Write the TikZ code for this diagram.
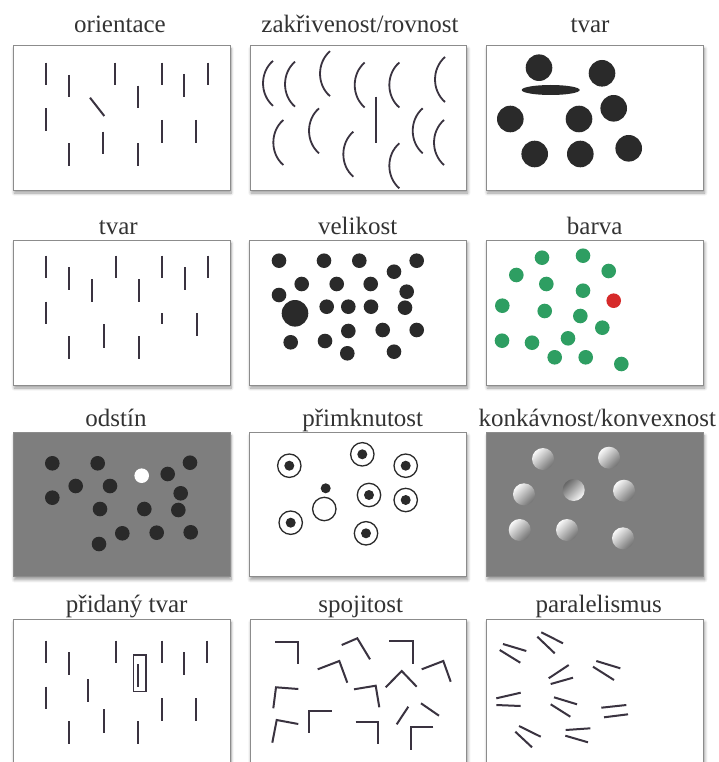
\documentclass[tikz,border=0pt]{standalone}
\usepackage{fontspec}
\setmainfont{Liberation Serif}
\usetikzlibrary{shadows.blur}
\definecolor{ink}{HTML}{3A3340}
\definecolor{dot}{HTML}{2A2A2A}
\definecolor{frame}{HTML}{8C8C8C}
\definecolor{bggray}{HTML}{7E7E7E}
\definecolor{grn}{HTML}{2E9E62}
\definecolor{rd}{HTML}{D62A2A}
\definecolor{ttl}{HTML}{333333}
\tikzset{
 panel/.style={draw=frame, line width=0.8pt, fill=white, blur shadow={shadow xshift=1pt, shadow yshift=-3pt, shadow blur steps=8, shadow blur radius=3pt}},
 graypanel/.style={panel, fill=bggray},
 title/.style={anchor=base, font=\fontsize{25}{28}\selectfont, text=ttl, inner sep=0pt},
 bar/.style={draw=ink, line width=2pt},
 curve/.style={draw=ink, line width=1.8pt},
 blob/.style={fill=dot},
 vex/.style={top color=white!95!gray, bottom color=black!55, shading angle=45},
 cave/.style={top color=black!60, bottom color=white!95!gray, shading angle=45},
}
\begin{document}
\begin{tikzpicture}[x=1pt,y=-1pt]
\useasboundingbox (0,0) rectangle (718,762);
\clip (0,0) rectangle (718,762);

% titles
\node[title] (t1) at (120,32.3) {orientace};
\node[title] (t2) at (360,32.3) {zakřivenost/rovnost};
\node[title] (t3) at (590,32.3) {tvar};
\node[title] (t4) at (118.3,234.3) {tvar};
\node[title] (t5) at (357.7,234.3) {velikost};
\node[title] (t6) at (594.7,234.3) {barva};
\node[title] (t7) at (116,426) {odstín};
\node[title] (t8) at (362.7,426) {přimknutost};
\node[title] (t9) at (597.3,426) {konkávnost/konvexnost};
\node[title] (t10) at (126.7,612.7) {přidaný tvar};
\node[title] (t11) at (360.7,612.7) {spojitost};
\node[title] (t12) at (598.7,612.7) {paralelismus};

% panels
\path[panel] (13.3,45.7) rectangle (230,190);
\path[panel] (250,45.7) rectangle (466.7,190);
\path[panel] (486.3,45.7) rectangle (703.7,190);
\path[panel] (13.3,240) rectangle (230,385);
\path[panel] (249.3,240) rectangle (466.7,385);
\path[panel] (486.3,240) rectangle (703.7,385);
\path[graypanel] (13.3,432.7) rectangle (230,576.7);
\path[panel] (249.3,432.7) rectangle (466.7,576.7);
\path[graypanel] (486.3,432.7) rectangle (703.7,576.7);
\path[panel] (13.3,619.3) rectangle (230,790);
\path[panel] (250,619.3) rectangle (466.7,790);
\path[panel] (486.3,619.3) rectangle (703.7,790);

% 1 orientace
\foreach \x/\a/\b in {45.7/62.7/85, 69/75/96.7, 115/62.7/85, 161.7/62.7/85, 184.3/74/96.7, 207.7/62.7/85, 138.3/85.7/108.3, 45.7/108.3/131, 161.7/120/142.7, 196/120/142.7, 103.3/131.7/154.3, 69/143.3/165.7, 138.3/143.3/165.7}
  \draw[bar] (\x,\a) -- (\x,\b);
\draw[bar] (90,97.7) -- (104.3,116);

% 2 zakrivenost
\foreach \x/\y in {273/83.3, 295/84.2, 330/73.7, 364.7/85, 399.3/85, 445/79.5, 283.3/142.5, 319/130.8, 353.3/154.2, 399.3/165.8, 422.7/130.8, 444/142.5}
  \draw[curve] (\x,{\y-22.5}) .. controls ({\x-13.3},{\y-11}) and ({\x-13.3},{\y+11}) .. (\x,{\y+22.5});
\draw[bar] (376,96.7) -- (376,142.7);

% 3 tvar (kruhy)
\foreach \x/\y in {539/67.7, 602/73.3, 510.3/119, 579/119, 613.7/108.3, 534.7/154, 580.3/154, 628.7/148.3}
  \fill[blob] (\x,\y) circle (13.3);
\fill[blob] (550.7,90) ellipse (29 and 5);

% 4 tvar (cary)
\foreach \x/\a/\b in {45.7/255.7/278.3, 69/267.3/290, 92.3/279/301.7, 115.7/255.7/278.3, 139/279/301.7, 162.3/255.7/278.3, 185/267.3/290, 208/255.7/278.3, 45.7/301.7/324.3, 162.3/313.3/324, 196.7/313.3/335.7, 104.3/324.3/347.7, 69.3/336/359, 139/336/359}
  \draw[bar] (\x,\a) -- (\x,\b);

% 5 velikost
\foreach \x/\y in {279/260.7, 324/260.7, 359.3/260.7, 416.7/260.7, 394/271.7, 301.7/284, 336.7/284, 370.7/284, 406.7/291.7, 279/295, 326.7/306.7, 348.3/306.7, 371/306.7, 405/307.7, 348.3/331, 382.7/330, 416.7/330, 290.7/342.3, 325/341, 347.3/353.3, 394/351.7}
  \fill[blob] (\x,\y) circle (7.3);
\fill[blob] (295,313.3) circle (13.3);

% 6 barva
\foreach \x/\y in {542/257.7, 583/255.7, 516.3/275, 608.7/271, 546.3/284, 583/290.7, 502.3/305.7, 544.7/311, 580.3/316, 602.3/327.7, 502/340.7, 532/342.7, 568/338.3, 554.7/357.3, 585.7/357.3, 621.3/364}
  \fill[grn] (\x,\y) circle (7.3);
\fill[rd] (613.7,300.7) circle (7.3);

% 7 odstin
\foreach \x/\y in {52.3/463.3, 97.7/463.3, 190/462.7, 167.7/474, 75.7/486, 110/486, 52.3/497.7, 180.7/493.3, 100/509, 144.3/509, 178.3/510, 122.3/533.3, 156.7/532.7, 190.7/532.3, 99/544}
  \fill[blob] (\x,\y) circle (7.3);
\fill[white] (141.7,475.7) circle (7.3);

% 8 primknutost
\foreach \x/\y in {289.3/465.7, 362.3/454.3, 405.7/465.7, 369/495, 405.7/500, 290.7/522.7, 366/533.3}
  {\draw[dot, line width=1.3pt] (\x,\y) circle (11.7);
   \fill[blob] (\x,\y) circle (5);}
\fill[blob] (325.7,488.3) circle (5);
\draw[dot, line width=1.3pt] (324.3,509) circle (11.7);

% 9 konkavnost
\foreach \x/\y in {543/459, 609/457.7, 524/494.3, 624/490.7, 519.7/530, 567/530, 623/538.3}
  \shade[vex] (\x,\y) circle (11);
\shade[cave] (573.7,490) circle (11);

% 10 pridany tvar
\foreach \x/\a/\b in {45.7/640.7/663.3, 69/652.3/675, 115.7/640.7/663.3, 161.7/640.7/663.3, 184.3/652.3/675, 207.3/640.7/663.3, 138.3/664/686.7, 88.3/679.3/701.7, 45.7/686.7/709.3, 161.7/698.3/720.7, 196/698.3/720.7, 104/709.3/732.7, 69/721/744, 138.3/721/744}
  \draw[bar] (\x,\a) -- (\x,\b);
\draw[ink, line width=1.3pt] (133.3,655) rectangle (146,691.7);

% 11 spojitost
\draw[bar] (275,641.7) -- (298.3,641.7) -- (298.3,664);
\draw[bar] (341.7,645) -- (357.3,638.3) -- (370,659.3);
\draw[bar] (389.3,641) -- (412.7,641) -- (412.7,664);
\draw[bar] (317.7,669.3) -- (339.3,661) -- (347.3,682.7);
\draw[bar] (421.7,669.3) -- (443.3,661) -- (450.7,681.7);
\draw[bar] (385.7,687.3) -- (401.7,671) -- (416.7,686.7);
\draw[bar] (298.3,689) -- (276,687.3) -- (273.3,708.3);
\draw[bar] (354,689.3) -- (375.7,685.7) -- (379.3,707.3);
\draw[bar] (331.7,710.7) -- (309.3,710.7) -- (309.3,732.7);
\draw[bar] (298.3,724) -- (276.7,720) -- (272.3,742.7);
\draw[bar] (355.7,721.7) -- (377.7,721.7) -- (377.7,744);
\draw[bar] (408.3,706.7) -- (396.7,724.3);
\draw[bar] (421,703.3) -- (439,715.7);
\draw[bar] (433.3,727.3) -- (410.7,727.3) -- (410.7,750);

% 12 paralelismus
\foreach \a/\b/\c/\d in {503/644/526.3/651, 499.7/650/520.3/662.7, 541.3/632.3/563/643.3, 537.3/636.7/554.7/653.3, 596.3/661/620.3/668.3, 593/666.7/614/680, 548.7/678.3/568.7/665, 550.7/684/573/677.7, 496.3/698.3/520.7/692.7, 496.3/705/520.7/706, 554/697.3/577/704.3, 550.7/704.3/570.3/716.7, 601.3/707.7/626.3/705, 604/717.3/628/714.3, 519/726/540.7/736.7, 515.3/731.7/532/747.3, 565.7/730/590.3/728.3, 565.3/735.7/588/742.3}
  \draw[bar] (\a,\b) -- (\c,\d);
\end{tikzpicture}
\end{document}
